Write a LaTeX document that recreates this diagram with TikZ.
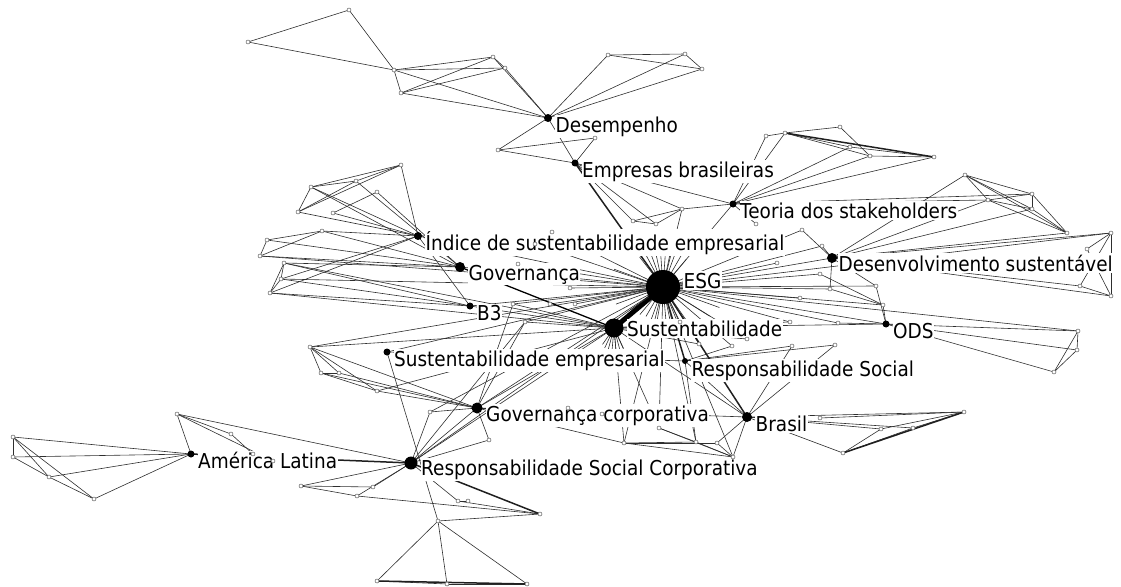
\documentclass[tikz,border=0pt]{standalone}
\usepackage{fontspec}
\setmainfont[FakeStretch=0.9]{DejaVu Sans}
\usetikzlibrary{calc}
\tikzset{
 ed/.style={draw=black!82, line width=0.6pt},
 edthick/.style={draw=black!88, line width=1.5pt},
 sn/.style={circle, draw=black!70, fill=white, line width=0.45pt, inner sep=0pt, minimum size=4pt},
 hub/.style={circle, fill=black, inner sep=0pt, minimum size=#1},
 lab/.style={anchor=base west, fill=white, inner xsep=0.5pt, inner ysep=1.5pt, font=\fontsize{20.5}{20.5}\selectfont, text=black},
}
\begin{document}
\begin{tikzpicture}[x=1pt,y=-1pt]
\path[use as bounding box] (0,0) rectangle (1121,586);
% hubs
\coordinate (Des) at (548,118);
\coordinate (Emp) at (575,163);
\coordinate (Teo) at (733,204);
\coordinate (Ind) at (418,236);
\coordinate (Gov) at (460,267);
\coordinate (ESG) at (663,287);
\coordinate (DS) at (832,258);
\coordinate (B3) at (470,306);
\coordinate (Sus) at (614,328);
\coordinate (ODS) at (886,324);
\coordinate (SE) at (387,352);
\coordinate (RS) at (685,361);
\coordinate (GC) at (477,408);
\coordinate (Bra) at (747,417);
\coordinate (AL) at (191,454);
\coordinate (RSC) at (411,463);
% small nodes
\foreach \n/\x/\y in {A1/349/10,A2/248/42,A3/394/70,A4/493/57,A5/505/68,A6/401/93,A7/498/150,A8/595/138,A9/608/55,A10/685/54,A11/702/69,
 H1/766/136,H2/785/133,H3/840/127,H4/850/147,H5/870/156,H6/934/157,H7/682/209,
 P1/401/165,P2/311/187,P3/356/181,P4/377/192,P5/298/212,P6/333/213,
 C1/322/231,C2/267/240,C3/260/256,C4/284/263,C5/281/279,C6/270/293,
 M1/552/232,M2/535/244,M3/518/264,M4/570/288,M5/513/304,M6/550/304,M7/575/304,M8/525/322,M9/633/221,M10/656/224,M11/756/224,M12/802/230,M13/822/246,M14/777/263,M15/820/274,M16/876/286,M17/830/289,M18/800/298,M19/838/323,M20/790/322,M21/835/345,M22/747/339,M23/680/322,M24/883/305,
 N1/624/443,N2/659/428,N3/696/442,N4/717/443,N5/733/457,N6/568/408,N7/602/414,N9/792/346,Q1/699/344,Q2/732/346,
 D1/310/347,D2/321/373,D3/339/373,D4/377/391,D5/430/412,D6/489/440,
 I1/965/175,I2/1032/194,I3/988/200,I4/1032/209,I5/1067/233,I6/1111/233,I7/1087/249,I8/1080/286,I9/1111/296,
 K1/1078/331,K2/1077/350,K3/1054/372,
 L1/964/412,L2/913/428,L3/881/429,L4/843/453,L5/820/418,
 F1/13/437,F2/13/457,F3/49/477,F4/94/499,F5/177/414,F6/231/434,F7/253/454,F8/273/461,F9/301/486,
 E0/357/496,E7/373/487,E1/438/521,E2/540/514,E3/458/501,E8/468/501,E4/377/581,E5/447/584,E6/527/584}
 {\coordinate (\n) at (\x,\y);}
% thin edges
\foreach \a/\b in {A2/A1,A1/A3,A2/A3,A3/Des,A6/Des,A3/A4,A3/A5,A3/A6,A6/A4,A6/A5,A4/A5,A4/Des,A5/Des,A7/Des,A7/A8,A7/Emp,Des/Emp,A8/Emp,A9/A10,A9/A11,A10/A11,A9/Des,A10/Des,A11/Des,
 Emp/Teo,Emp/H7,Emp/M9,Emp/M10,
 H1/H2,H2/H3,H2/H5,H4/H6,H5/H6,H3/H5,H2/H4,H1/Teo,H2/Teo,H4/Teo,H5/Teo,H6/Teo,H7/Teo,H7/ESG,H7/M10,Teo/ESG,Teo/M11,M9/M10,H7/M9,
 P1/P2,P1/P3,P1/P5,P2/P3,P2/P5,P3/P5,P4/P6,P1/Ind,P2/Ind,P5/Ind,P6/Ind,P3/Gov,P4/Gov,P2/Gov,
 C2/C1,C2/C3,C3/C1,C1/Gov,C2/Gov,C3/Gov,C4/C5,C4/C6,C5/C6,C4/B3,C6/B3,C5/B3,C6/Ind,C5/Ind,C4/Gov,C1/Ind,C3/ESG,C5/ESG,C6/Sus,C4/Sus,
 Ind/B3,Ind/ESG,Gov/ESG,B3/ESG,B3/Sus,Ind/M1,
 ESG/M1,ESG/M2,ESG/M3,ESG/M4,ESG/M5,ESG/M6,ESG/M7,ESG/M8,ESG/DS,ESG/ODS,ESG/M12,ESG/M13,ESG/M14,ESG/M15,ESG/M16,ESG/M17,ESG/M18,ESG/M19,ESG/M20,ESG/M24,ESG/GC,ESG/RSC,ESG/SE,ESG/D1,ESG/D5,ESG/N1,ESG/N2,ESG/N3,ESG/N5,ESG/Q1,ESG/Q2,ESG/M22,ESG/M23,ESG/I6,ESG/K1,
 DS/I1,DS/I3,DS/I4,DS/I5,DS/I6,DS/I8,DS/I9,DS/M12,DS/M13,DS/M17,DS/M16,
 I1/I2,I1/I4,I1/I5,I1/I3,I3/I2,I3/I4,I2/I4,I2/I5,I4/I5,I3/I5,I6/I7,I6/I8,I6/I9,I7/I9,I8/I9,Teo/I2,Teo/I3,
 ODS/K1,ODS/K2,ODS/K3,K1/K2,K1/K3,K2/K3,Sus/ODS,M16/ODS,M24/ODS,M19/ODS,M15/M24,M17/M24,
 Sus/Bra,Sus/GC,Sus/RSC,Sus/M5,Sus/M8,Sus/D1,Sus/N1,Sus/N2,Sus/Q1,Sus/M22,Sus/M23,Sus/M20,Sus/D4,
 SE/E1,SE/RS,
 D1/GC,D2/GC,D3/GC,D4/GC,D1/D2,D1/D3,D1/D4,D2/D4,D2/D3,GC/Bra,GC/RSC,GC/D5,GC/N6,GC/N7,GC/N1,GC/M5,GC/M8,GC/D6,
 RSC/E0,RSC/E7,RSC/D5,RSC/D6,RSC/F5,RSC/F9,RSC/M8,RSC/E3,
 F1/F2,F1/F3,F1/F4,F3/F4,F2/F3,F1/AL,F2/AL,F3/AL,F4/AL,F5/AL,F5/F6,F5/F8,F6/F7,F9/E7,F9/E0,E0/E2,E1/E2,E1/E4,E1/E5,E1/E6,E4/E5,E5/E6,E3/E8,E3/E2,
 Bra/L1,Bra/L2,Bra/L3,L3/L1,L2/L1,L4/L2,L4/L3,L5/L1,Bra/L4,Bra/M21,Bra/N9,Bra/RS,Bra/N5,Bra/N4,
 N1/N3,N1/N4,N1/N5,N3/N5,N4/N5,N2/N5,N2/N3,RS/Q2,RS/N9,RS/M21,RS/N3}
 {\draw[ed] (\a) -- (\b);}
% thick edges
\foreach \a/\b in {Emp/ESG,ESG/RS,ESG/Bra,AL/RSC,RSC/E2,E4/E6,H2/H6,L4/L1}
 {\draw[edthick] (\a) -- (\b);}
\draw[draw=black, line width=1.3pt] (Gov) -- (Sus);
\draw[draw=black, line width=5pt] (ESG) -- (Sus);
% radial stubs
\foreach \a/\l [count=\i] in {232/38,242/40,250/36,258/42,266/40,274/38,282/42,290/40,300/38,310/36,55/40,65/42,75/38,85/40,100/36,110/38,120/34,130/36,145/40,20/60,32/55,160/50,200/52}
 {\coordinate (eu\i) at ($(ESG)+(\a:\l)$); \draw[ed] (ESG) -- (eu\i);}
\foreach \a/\l [count=\i] in {65/22,75/24,85/25,95/24,105/24,115/22,125/20}
 {\coordinate (su\i) at ($(Sus)+(\a:\l)$); \draw[ed] (Sus) -- (su\i);}
% labels
\node[lab] (lDes) at (555,132) {Desempenho};
\node[lab] (lEmp) at (581.5,177.5) {Empresas brasileiras};
\node[lab] (lTeo) at (739.5,218.5) {Teoria dos stakeholders};
\node[lab] (lInd) at (425,250) {Índice de sustentabilidade empresarial};
\node[lab] (lGov) at (468,280) {Governança};
\node[lab] (lESG) at (683,288) {ESG};
\node[lab] (lDS) at (838,271) {Desenvolvimento sustentável};
\node[lab] (lB3) at (476.5,320.5) {B3};
\node[lab] (lSus) at (626.5,336.5) {Sustentabilidade};
\node[lab] (lODS) at (892.5,338.5) {ODS};
\node[lab] (lSE) at (393.5,366.5) {Sustentabilidade empresarial};
\node[lab] (lRS) at (691,376) {Responsabilidade Social};
\node[lab] (lGC) at (485.5,421) {Governança corporativa};
\node[lab] (lBra) at (755,431) {Brasil};
\node[lab] (lAL) at (197.5,468.5) {América Latina};
\node[lab] (lRSC) at (420.5,475) {Responsabilidade Social Corporativa};
% small node markers
\foreach \n in {A1,A2,A3,A4,A5,A6,A7,A8,A9,A10,A11,H1,H2,H3,H4,H5,H6,H7,P1,P2,P3,P4,P5,P6,C1,C2,C3,C4,C5,C6,
 M1,M2,M3,M4,M5,M6,M7,M8,M9,M10,M11,M12,M13,M14,M15,M16,M17,M18,M19,M20,M21,M22,M23,M24,
 N1,N2,N3,N4,N5,N6,N7,N9,Q1,Q2,D1,D2,D3,D4,D5,D6,I1,I2,I3,I4,I5,I6,I7,I8,I9,K1,K2,K3,L1,L2,L3,L4,L5,
 F1,F2,F3,F4,F5,F6,F7,F8,F9,E0,E7,E1,E2,E3,E8,E4,E5,E6}
 {\node[sn] (s\n) at (\n) {};}
% hub markers
\node[hub=8pt] (dDes) at (Des) {};
\node[hub=7pt] (dEmp) at (Emp) {};
\node[hub=7pt] (dTeo) at (Teo) {};
\node[hub=8pt] (dInd) at (Ind) {};
\node[hub=10pt] (dGov) at (Gov) {};
\node[hub=34pt] (dESG) at (ESG) {};
\node[hub=10pt] (dDS) at (DS) {};
\node[hub=7pt] (dB3) at (B3) {};
\node[hub=19pt] (dSus) at (Sus) {};
\node[hub=7pt] (dODS) at (ODS) {};
\node[hub=7pt] (dSE) at (SE) {};
\node[hub=6pt] (dRS) at (RS) {};
\node[hub=11pt] (dGC) at (GC) {};
\node[hub=10pt] (dBra) at (Bra) {};
\node[hub=7pt] (dAL) at (AL) {};
\node[hub=13pt] (dRSC) at (RSC) {};
\end{tikzpicture}
\end{document}
